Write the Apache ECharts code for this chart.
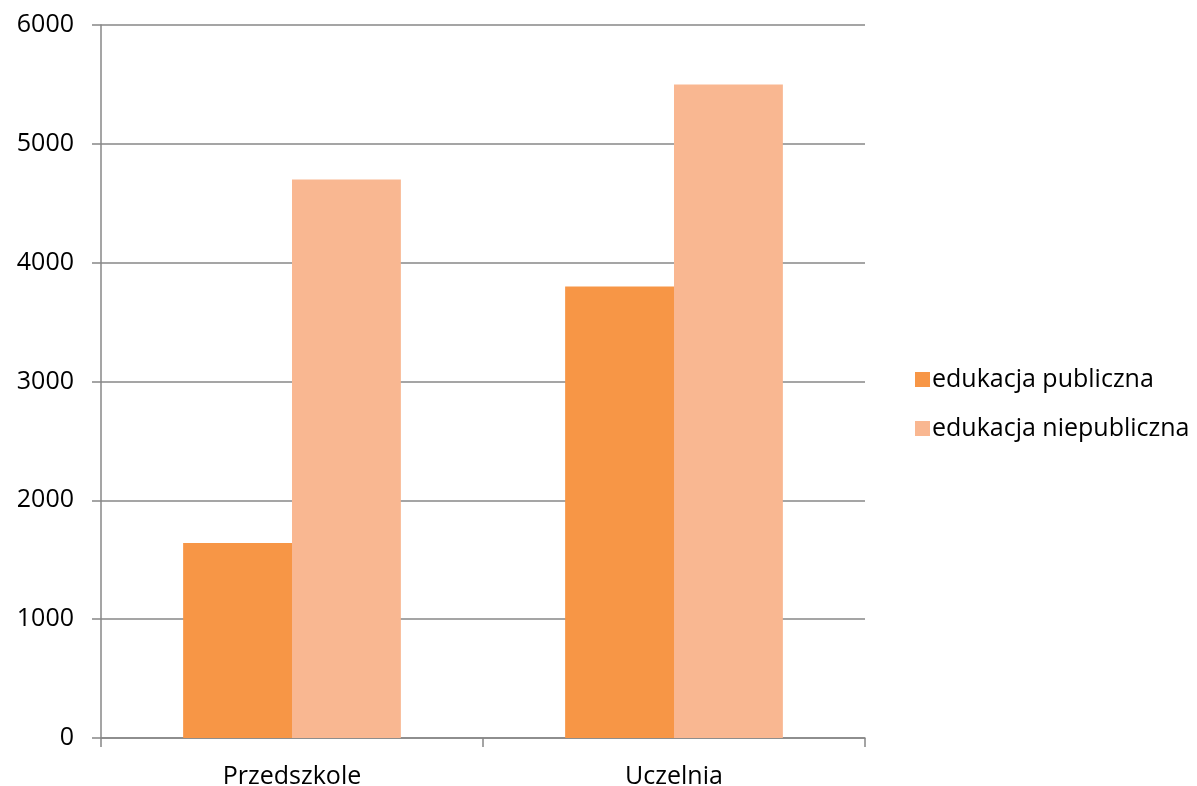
<!DOCTYPE html>
<html><head><meta charset="utf-8">
<script src="https://cdn.jsdelivr.net/npm/echarts@6/dist/echarts.min.js"></script>
<style>html,body{margin:0;padding:0;background:#fff}#c{width:1197px;height:786px}</style>
</head><body><div id="c"></div>
<script>
const categories = ["Przedszkole", "Uczelnia"];
const seriesNames = ["edukacja publiczna", "edukacja niepubliczna"];
const publicValues = [1640, 3800];
const nonPublicValues = [4700, 5500];
const FONT = "'Open Sans', 'Noto Sans', sans-serif";
const chart = echarts.init(document.getElementById('c'), null, {renderer: 'canvas'});
chart.setOption({
  animation: false,
  backgroundColor: '#fff',
  grid: {left: 101, right: 1197 - 865, top: 25, bottom: 786 - 738, containLabel: false, outerBoundsMode: 'none'},
  legend: {
    orient: 'vertical', left: 910, top: 362, itemWidth: 15, itemHeight: 15, itemGap: 24,
    icon: 'rect',
    textStyle: {fontFamily: FONT, fontSize: 25, lineHeight: 25, color: '#000', padding: [0, 0, 0, -3]},
    data: seriesNames
  },
  xAxis: {
    type: 'category', data: categories,
    axisLine: {lineStyle: {color: '#878787', width: 1.5}},
    axisTick: {show: true, length: 9, lineStyle: {color: '#878787', width: 1.5}},
    axisLabel: {fontFamily: FONT, fontSize: 25, color: '#000', margin: 26}
  },
  yAxis: {
    type: 'value', min: 0, max: 6000, interval: 1000,
    axisLine: {show: true, lineStyle: {color: '#878787', width: 1.5}},
    axisTick: {show: true, length: 9, lineStyle: {color: '#878787', width: 1.5}},
    splitLine: {lineStyle: {color: '#878787', width: 1.5}},
    axisLabel: {fontFamily: FONT, fontSize: 25, color: '#000', margin: 27, formatter: v => String(v)}
  },
  series: [
    {name: seriesNames[0], type: 'bar', data: publicValues, barGap: '0%', barCategoryGap: '43%',
     itemStyle: {color: '#F79646'}},
    {name: seriesNames[1], type: 'bar', data: nonPublicValues, barGap: '0%', barCategoryGap: '43%',
     itemStyle: {color: '#F9B791'}}
  ]
});
</script></body></html>
